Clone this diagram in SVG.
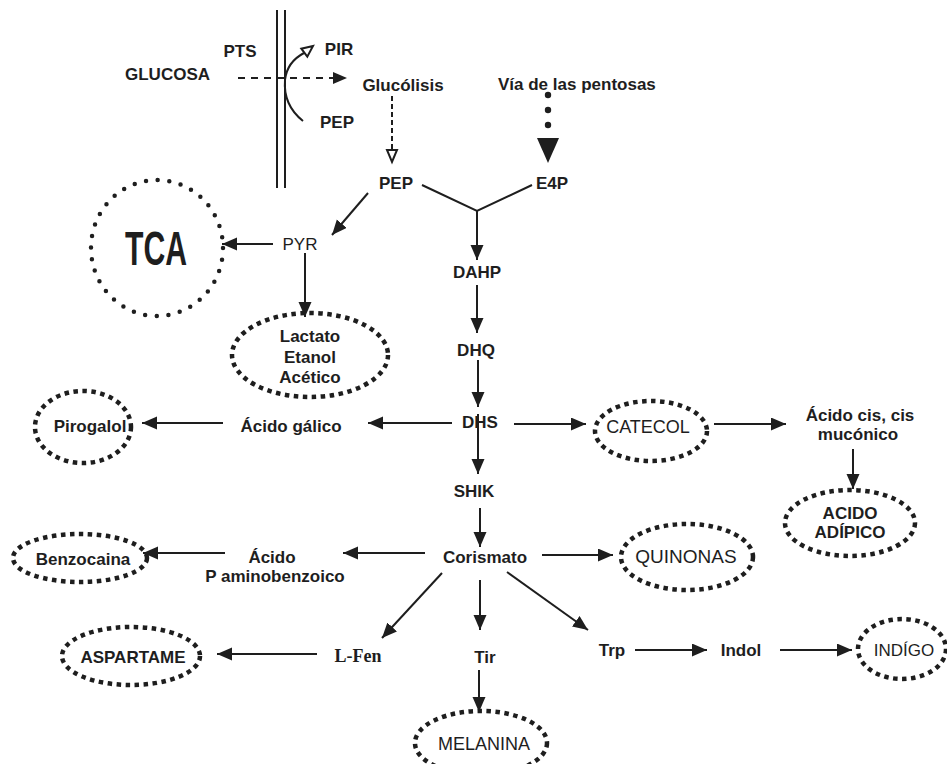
<svg xmlns="http://www.w3.org/2000/svg" width="947" height="764" viewBox="0 0 947 764">
  <style>
    .t { font-family: "Liberation Sans", Arial, sans-serif; font-size: 17px; font-weight: bold; fill: #1e1e1e; text-anchor: middle; }
    .r { font-weight: normal; }
    .lg { font-size: 18px; }
    .ln { stroke: #1e1e1e; stroke-width: 2; fill: none; }
    .arr { marker-end: url(#head); }
    .dot { fill: none; stroke: #1e1e1e; stroke-width: 4.5; stroke-dasharray: 4.5 4.5; }
    .rdot { fill: none; stroke: #1e1e1e; stroke-width: 4.5; stroke-dasharray: 0 11.7; stroke-linecap: round; }
  </style>
  <defs>
    <marker id="head" markerUnits="userSpaceOnUse" markerWidth="16" markerHeight="14" refX="15" refY="6.5" orient="auto">
      <path d="M0,0 L15,6.5 L0,13 z" fill="#1e1e1e"/>
    </marker>
  </defs>
  <rect width="947" height="764" fill="#ffffff"/>

  <!-- cell membrane -->
  <g id="membrane">
    <line class="ln" x1="277" y1="10" x2="277" y2="188" stroke-width="2.5"/>
    <line class="ln" x1="285" y1="10" x2="285" y2="188" stroke-width="2.5"/>
  </g>

  <!-- nodes -->
  <g id="glucosa"><text class="t" x="210" y="80" style="text-anchor:end">GLUCOSA</text></g>
  <g id="pts"><text class="t" x="240" y="57">PTS</text></g>
  <g id="pir"><text class="t" x="339" y="55">PIR</text></g>
  <g id="pep-in"><text class="t" x="337" y="128">PEP</text></g>
  <g id="glucolisis"><text class="t" x="403" y="91">Glucólisis</text></g>
  <g id="pentosas"><text class="t" x="498" y="90" style="text-anchor:start">Vía de las pentosas</text></g>
  <g id="pep"><text class="t" x="396" y="189">PEP</text></g>
  <g id="e4p"><text class="t" x="552" y="189">E4P</text></g>
  <g id="pyr"><text class="t r" x="300" y="250">PYR</text></g>
  <g id="tca">
    <ellipse class="rdot" cx="157" cy="248" rx="66" ry="68"/>
    <text class="t" x="156" y="265" style="font-size:48px" textLength="62" lengthAdjust="spacingAndGlyphs">TCA</text>
  </g>
  <g id="fermentacion">
    <ellipse class="dot" cx="310" cy="355" rx="78" ry="42"/>
    <text class="t" x="310" y="342">Lactato</text>
    <text class="t" x="310" y="363">Etanol</text>
    <text class="t" x="310" y="383">Acético</text>
  </g>
  <g id="dahp"><text class="t" x="477" y="278">DAHP</text></g>
  <g id="dhq"><text class="t" x="476" y="356">DHQ</text></g>
  <g id="dhs"><text class="t" x="480" y="428">DHS</text></g>
  <g id="shik"><text class="t" x="474" y="497">SHIK</text></g>
  <g id="corismato"><text class="t" x="485" y="563">Corismato</text></g>
  <g id="acido-galico"><text class="t" x="291" y="432">Ácido gálico</text></g>
  <g id="pirogalol">
    <ellipse class="dot" cx="83" cy="427" rx="48" ry="36"/>
    <text class="t" x="90" y="432">Pirogalol</text>
  </g>
  <g id="catecol">
    <ellipse class="dot" cx="651" cy="431" rx="56" ry="30"/>
    <text class="t r lg" x="648" y="433">CATECOL</text>
  </g>
  <g id="muconico">
    <text class="t" x="860" y="421">Ácido cis, cis</text>
    <text class="t" x="858" y="440">mucónico</text>
  </g>
  <g id="adipico">
    <ellipse class="dot" cx="850" cy="523" rx="65" ry="33"/>
    <text class="t" x="850" y="519">ACIDO</text>
    <text class="t" x="850" y="538">ADÍPICO</text>
  </g>
  <g id="paba">
    <text class="t" x="272" y="563">Ácido</text>
    <text class="t" x="275" y="582">P aminobenzoico</text>
  </g>
  <g id="benzocaina">
    <ellipse class="dot" cx="80" cy="558" rx="67" ry="24"/>
    <text class="t" x="83" y="565">Benzocaina</text>
  </g>
  <g id="quinonas">
    <ellipse class="dot" cx="687" cy="557" rx="66" ry="33"/>
    <text class="t r" x="686" y="563" style="font-size:19px">QUINONAS</text>
  </g>
  <g id="lfen"><text class="t" x="358" y="662" style="font-family:'Liberation Serif','Times New Roman',serif;font-size:18px">L-Fen</text></g>
  <g id="aspartame">
    <ellipse class="dot" cx="131" cy="656" rx="69" ry="29"/>
    <text class="t" x="133" y="663">ASPARTAME</text>
  </g>
  <g id="tir"><text class="t" x="485" y="663">Tir</text></g>
  <g id="melanina">
    <ellipse class="dot" cx="481" cy="743" rx="66" ry="32"/>
    <text class="t r lg" x="484" y="750">MELANINA</text>
  </g>
  <g id="trp"><text class="t" x="612" y="656">Trp</text></g>
  <g id="indol"><text class="t" x="741" y="656">Indol</text></g>
  <g id="indigo">
    <ellipse class="dot" cx="902" cy="649" rx="44" ry="30"/>
    <text class="t r" x="904" y="656">INDÍGO</text>
  </g>

  <!-- connectors -->
  <g id="connectors">
    <!-- glucose uptake through PTS -->
    <line class="ln" x1="238" y1="78" x2="334" y2="78" stroke-dasharray="7 6"/>
    <polygon points="333,72 347,78 333,84" fill="#1e1e1e"/>
    <path class="ln" d="M303,121 Q283,105 285,80 Q287,62 304,53"/>
    <polygon points="313,46 301.3,48.7 307.3,56.7" fill="#ffffff" stroke="#1e1e1e" stroke-width="2"/>
    <!-- glycolysis to PEP -->
    <line class="ln" x1="392" y1="96" x2="392" y2="150" stroke-width="2.5" stroke-dasharray="5 3"/>
    <polygon points="387,150 397,150 392,162" fill="#ffffff" stroke="#1e1e1e" stroke-width="2"/>
    <!-- pentose pathway to E4P -->
    <circle cx="548" cy="95" r="3.2" fill="#1e1e1e"/>
    <circle cx="548" cy="110" r="3.2" fill="#1e1e1e"/>
    <circle cx="548" cy="125" r="3.2" fill="#1e1e1e"/>
    <polygon points="537,138 559,138 548,163" fill="#1e1e1e"/>
    <!-- PEP + E4P condensation -->
    <polyline class="ln" points="422,185 477,211 532,185"/>
    <line class="ln arr" x1="477" y1="211" x2="477" y2="260"/>
    <line class="ln arr" x1="477" y1="285" x2="477" y2="333"/>
    <line class="ln arr" x1="478" y1="360" x2="478" y2="407"/>
    <line class="ln arr" x1="478" y1="414" x2="478" y2="474"/>
    <line class="ln arr" x1="480" y1="508" x2="480" y2="547"/>
    <!-- PEP to pyruvate -->
    <line class="ln arr" x1="368" y1="193" x2="332" y2="235"/>
    <line class="ln arr" x1="273" y1="244" x2="222" y2="244"/>
    <line class="ln arr" x1="305" y1="253" x2="305" y2="317"/>
    <!-- DHS branches -->
    <line class="ln arr" x1="452" y1="423" x2="368" y2="423"/>
    <line class="ln arr" x1="223" y1="423" x2="142" y2="423"/>
    <line class="ln arr" x1="514" y1="424" x2="586" y2="424"/>
    <line class="ln arr" x1="714" y1="424" x2="786" y2="424"/>
    <line class="ln arr" x1="853" y1="449" x2="853" y2="489"/>
    <!-- chorismate branches -->
    <line class="ln arr" x1="425" y1="553" x2="343" y2="553"/>
    <line class="ln arr" x1="225" y1="553" x2="143" y2="553"/>
    <line class="ln arr" x1="542" y1="555" x2="613" y2="555"/>
    <line class="ln arr" x1="442" y1="573" x2="382" y2="638"/>
    <line class="ln arr" x1="480" y1="580" x2="480" y2="630"/>
    <line class="ln arr" x1="507" y1="572" x2="588" y2="630"/>
    <line class="ln arr" x1="317" y1="654" x2="217" y2="654"/>
    <line class="ln arr" x1="479" y1="670" x2="479" y2="712"/>
    <line class="ln arr" x1="635" y1="650" x2="707" y2="650"/>
    <line class="ln arr" x1="780" y1="650" x2="852" y2="650"/>
  </g>
</svg>
